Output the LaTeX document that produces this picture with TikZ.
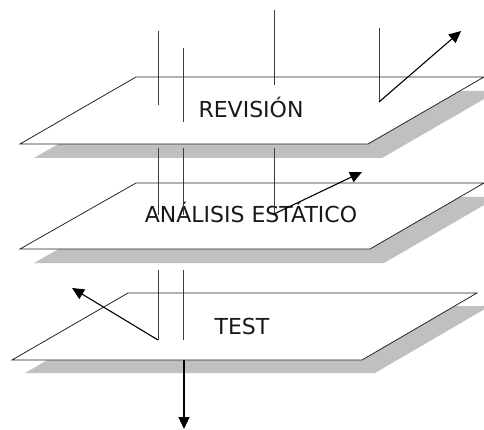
\documentclass[tikz,border=0pt]{standalone}
\usepackage{fontspec}
\setmainfont{DejaVu Sans}
\usetikzlibrary{arrows.meta}
\definecolor{shadowgray}{RGB}{192,192,192}
\definecolor{linegray}{RGB}{60,60,60}
\definecolor{txt}{RGB}{25,25,25}
\begin{document}
\begin{tikzpicture}[x=1pt,y=-1pt,
  shadowpoly/.style={fill=shadowgray,draw=none},
  planepoly/.style={fill=white,draw=black!85,line width=0.8pt,line join=miter},
  vline/.style={draw=linegray,line width=0.9pt},
  arrowline/.style={draw=black,line width=1.1pt,-{Triangle[length=12pt,width=11pt]}},
  label/.style={font=\fontsize{22}{26}\selectfont,text=txt,anchor=base,inner sep=0pt}]
\useasboundingbox (0,0) rectangle (484,430);
\clip (0,0) rectangle (484,430);
% shadows
\fill[shadowpoly] (150,91) -- (498,91) -- (382,158) -- (34,158) -- cycle;
\fill[shadowpoly] (150,197) -- (498,197) -- (384,263) -- (34,263) -- cycle;
\fill[shadowpoly] (141,306) -- (490,306) -- (375,373) -- (25,373) -- cycle;
% planes
\draw[planepoly] (136,77) -- (484,77) -- (368,144) -- (20,144) -- cycle;
\draw[planepoly] (136,183) -- (484,183) -- (370,249) -- (20,249) -- cycle;
\draw[planepoly] (128,293) -- (477,293) -- (362,360) -- (12,360) -- cycle;
% labels
\node[label] (rev) at (251,118) {REVISIÓN};
\node[label] (ana) at (251,223) {ANÁLISIS ESTÁTICO};
\node[label] (test) at (242,334) {TEST};
% vertical lines, plane 1
\draw[vline] (158,31) -- (158,105);
\draw[vline] (183,48) -- (183,122);
\draw[vline] (274,10) -- (274,85);
\coordinate (r1) at (379,28);
\coordinate (r2) at (379,102);
\coordinate (r3) at (461,31);
\draw[vline] (r1) -- (r2);
\draw[arrowline] (r2) -- (r3);
% between plane 1 and 2
\draw[vline] (158,148) -- (158,215);
\draw[vline] (183,148) -- (183,215);
\coordinate (a1) at (274,148);
\coordinate (a2) at (274,214);
\coordinate (a3) at (362,172);
\draw[vline] (a1) -- (a2);
\draw[arrowline] (a2) -- (a3);
% between plane 2 and 3
\coordinate (t1) at (158,270);
\coordinate (t2) at (158,340);
\coordinate (t3) at (72,288);
\draw[vline] (t1) -- (t2);
\draw[arrowline] (t2) -- (t3);
\draw[vline] (183,270) -- (183,340);
% output arrow
\coordinate (o1) at (184,360);
\coordinate (o2) at (184,429);
\draw[arrowline] (o1) -- (o2);
\end{tikzpicture}
\end{document}
